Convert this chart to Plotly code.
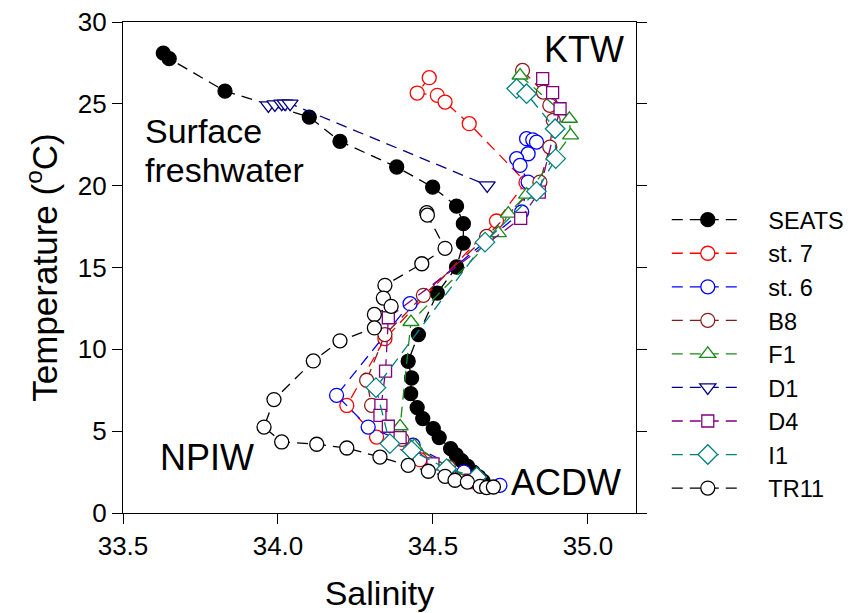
import plotly.graph_objects as go

# ---------------- data (salinity, temperature) ----------------
seats_S = [33.630, 33.649, 33.829, 34.101, 34.200, 34.383, 34.499, 34.576, 34.598, 34.598,
           34.576, 34.514, 34.453, 34.420, 34.431, 34.428, 34.449, 34.467, 34.501, 34.520,
           34.557, 34.575, 34.592, 34.612, 34.630, 34.648, 34.662]
seats_T = [28.10, 27.76, 25.78, 24.19, 22.71, 21.14, 19.91, 18.75, 17.68, 16.49,
           15.03, 13.44, 10.90, 9.27, 8.25, 7.29, 6.44, 5.77, 5.16, 4.61,
           3.93, 3.55, 3.20, 2.85, 2.50, 2.20, 1.95]

st7_S = [34.488, 34.449, 34.514, 34.539, 34.617, 34.800, 34.705, 34.345, 34.222, 34.318, 34.458, 34.550, 34.630]
st7_T = [26.60, 25.66, 25.52, 25.11, 23.79, 20.20, 17.84, 10.65, 6.57, 4.64, 3.26, 2.50, 1.90]

st6_S = [34.802, 34.822, 34.834, 34.807, 34.770, 34.781, 34.807, 34.786, 34.426, 34.189, 34.291, 34.436, 34.600, 34.716]
st6_T = [22.87, 22.80, 22.66, 21.95, 21.65, 21.24, 20.22, 18.39, 12.79, 7.19, 5.25, 4.14, 2.50, 1.69]

b8_S = [34.789, 34.856, 34.877, 34.888, 34.877, 34.845, 34.673, 34.469, 34.345, 34.286, 34.302, 34.400, 34.550, 34.650]
b8_T = [27.04, 25.72, 24.91, 23.99, 22.36, 20.22, 16.90, 13.30, 10.90, 8.11, 6.58, 4.50, 2.80, 1.80]

f1_S = [34.781, 34.940, 34.944, 34.802, 34.743, 34.711, 34.429, 34.394, 34.440, 34.550, 34.650]
f1_T = [26.73, 24.09, 23.07, 19.45, 18.29, 17.10, 11.67, 5.30, 4.10, 2.80, 1.80]

d1_S = [33.969, 33.990, 34.012, 34.023, 34.039, 34.675]
d1_T = [24.91, 24.97, 25.01, 25.01, 25.01, 20.02]

d4_S = [34.854, 34.886, 34.910, 34.843, 34.783, 34.356, 34.347, 34.332, 34.329, 34.356, 34.394, 34.500, 34.620]
d4_T = [26.54, 25.68, 24.70, 19.61, 18.00, 11.93, 8.67, 6.58, 5.97, 5.30, 4.61, 3.00, 2.00]

i1_S = [34.770, 34.802, 34.894, 34.896, 34.834, 34.668, 34.316, 34.361, 34.431, 34.544, 34.641]
i1_T = [25.93, 25.62, 23.48, 21.65, 19.65, 16.55, 7.66, 4.24, 3.83, 2.71, 2.20]

tr11_S = [34.480, 34.482, 34.539, 34.464, 34.345, 34.340, 34.365, 34.311, 34.311, 34.200,
          34.114, 33.987, 33.955, 34.012, 34.125, 34.222, 34.329, 34.420, 34.485, 34.539,
          34.571, 34.611, 34.652, 34.673, 34.695]
tr11_T = [18.35, 18.20, 16.17, 15.23, 13.91, 13.13, 12.63, 12.13, 11.31, 10.52,
          9.29, 6.93, 5.25, 4.34, 4.20, 3.97, 3.42, 2.91, 2.55, 2.24,
          2.00, 1.89, 1.63, 1.55, 1.59]

x_ticks = [33.5, 34.0, 34.5, 35.0]
x_ticktext = ["33.5", "34.0", "34.5", "35.0"]
y_ticks = [0, 5, 10, 15, 20, 25, 30]

FONT = "Liberation Sans, Arial, sans-serif"
DASH = "11px,7px"
PAD = "\u00a0\u00a0\u00a0"

series = [
    ("SEATS", seats_S, seats_T, "black", "circle", "black", 14),
    ("st. 7", st7_S, st7_T, "#FF0000", "circle", "white", 14),
    ("st. 6", st6_S, st6_T, "#0000FF", "circle", "white", 14),
    ("B8", b8_S, b8_T, "#8B1A1A", "circle", "white", 14),
    ("F1", f1_S, f1_T, "#1A8A1A", "triangle-up", "white", 14),
    ("D1", d1_S, d1_T, "#000080", "triangle-down", "white", 14),
    ("D4", d4_S, d4_T, "#800080", "square", "white", 12),
    ("I1", i1_S, i1_T, "#008080", "diamond", "white", 15),
    ("TR11", tr11_S, tr11_T, "black", "circle", "white", 14),
]

fig = go.Figure()
for name, xs, ys, col, sym, fill, size in series:
    fig.add_trace(go.Scatter(
        x=xs, y=ys, name=PAD + name, mode="lines+markers",
        line=dict(color=col, width=1.3, dash=DASH),
        marker=dict(symbol=sym, size=size, color=fill,
                    line=dict(color=col, width=1.3)),
    ))

annots = [
    dict(x=34.987, y=28.35, text="KTW", size=36),
    dict(x=33.565, y=23.31, text="Surface", size=34, xanchor="left"),
    dict(x=33.565, y=20.93, text="freshwater", size=34, xanchor="left"),
    dict(x=33.771, y=3.40, text="NPIW", size=36),
    dict(x=34.929, y=1.85, text="ACDW", size=36),
]
for a in annots:
    fig.add_annotation(xref="x", yref="y", showarrow=False, x=a["x"], y=a["y"], text=a["text"],
                       xanchor=a.get("xanchor", "center"), yanchor="middle",
                       font=dict(family=FONT, size=a["size"], color="black"))

fig.update_xaxes(range=[33.5, 35.155], tickvals=x_ticks, ticktext=x_ticktext,
                 ticks="outside", ticklen=10, tickwidth=1.3, tickcolor="black",
                 showline=True, linecolor="black", linewidth=1.3, mirror=True,
                 showgrid=False, zeroline=False, automargin=False,
                 tickfont=dict(family=FONT, size=26, color="black"),
                 title=dict(text="Salinity", font=dict(family=FONT, size=34, color="black"), standoff=20))
fig.update_yaxes(range=[0, 30], tickvals=y_ticks,
                 ticks="outside", ticklen=10, tickwidth=1.3, tickcolor="black",
                 showline=True, linecolor="black", linewidth=1.3, mirror="ticks",
                 showgrid=False, zeroline=False, automargin=False,
                 tickfont=dict(family=FONT, size=26, color="black"),
                 title=dict(text="Temperature (<sup>o</sup>C)", font=dict(family=FONT, size=35, color="black"), standoff=9))

fig.update_layout(
    width=867, height=613,
    margin=dict(l=123, r=231, t=22, b=100, autoexpand=False),
    paper_bgcolor="white", plot_bgcolor="white",
    legend=dict(x=1.06, y=0.324, xanchor="left", yanchor="middle",
                font=dict(family=FONT, size=23.5, color="black"),
                itemwidth=72, tracegroupgap=0, bgcolor="rgba(0,0,0,0)"),
    showlegend=True,
)

fig.write_html("out.html")
